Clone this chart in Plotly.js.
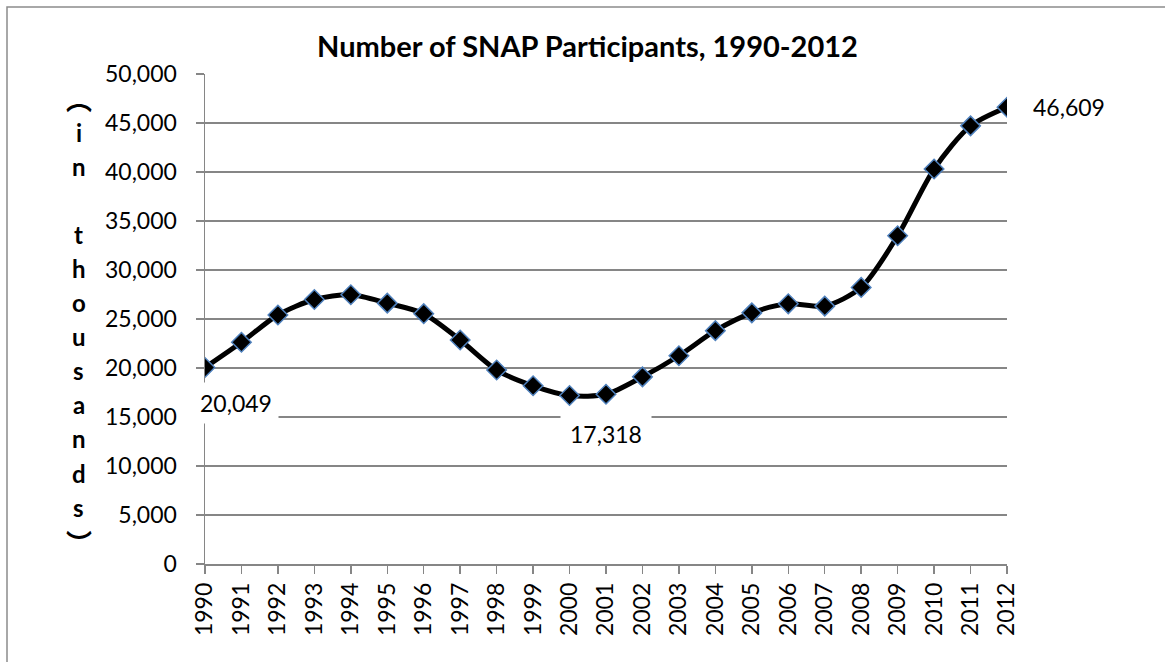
<!DOCTYPE html>
<html>
<head>
<meta charset="utf-8">
<script src="https://cdn.plot.ly/plotly-3.0.1.min.js"></script>
<style>html,body{margin:0;padding:0;background:#fff;}#chart{width:1165px;height:662px;}</style>
</head>
<body>
<div id="chart"></div>
<script>
// ---- data ----
var years = [1990,1991,1992,1993,1994,1995,1996,1997,1998,1999,2000,2001,2002,2003,2004,2005,2006,2007,2008,2009,2010,2011,2012];
var participants = [20049,22625,25407,26987,27474,26619,25543,22858,19791,18183,17194,17318,19096,21250,23811,25628,26549,26316,28223,33490,40302,44709,46609];
var labelledYears = [1990, 2001, 2012];
var chartTitle = "Number of SNAP Participants, 1990-2012";
var yTitleLetters = "in thousands";
var yTitleOpen = "\uFE35", yTitleClose = "\uFE36"; // vertical-form parentheses
var yTickVals = [0,5000,10000,15000,20000,25000,30000,35000,40000,45000,50000];

// ---- layout geometry (pixels) ----
var W = 1165, H = 662;
var L = 205, R = 158, T = 74, B = 98;
var PW = W - L - R, PH = H - T - B;
function pxX(px){ return (px - L) / PW; }
function pxY(py){ return (H - B - py) / PH; }

var FONT = "Lato, 'Open Sans', sans-serif";
var GRID = "#868686";

var annotations = [];
// data labels
var labelStyle = {
  1990: {xshift: 31, yshift: -35, pad: 6},
  2001: {xshift: 0, yshift: -40, pad: 9},
  2012: {xshift: 62, yshift: 0, pad: 4}
};
labelledYears.forEach(function(yr){
  var i = years.indexOf(yr);
  var s = labelStyle[yr];
  annotations.push({
    xref: 'x', yref: 'y', x: years[i], y: participants[i],
    text: participants[i].toLocaleString('en-US'),
    showarrow: false, xshift: s.xshift, yshift: s.yshift,
    bgcolor: '#ffffff', borderpad: s.pad,
    font: {family: FONT, size: 23, color: '#000'}
  });
});

// stacked vertical y-axis title
var inner = yTitleLetters.split('');
var pitch = 34.1, firstY = 132, titleX = 79;
var tFont = {family: FONT, size: 24, color: '#000', weight: 'bold'};
var pFont = {family: "'Noto Sans CJK SC', sans-serif", size: 26, color: '#000', weight: 'bold'};
annotations.push({xref:'paper', yref:'paper', x: pxX(titleX), y: pxY(98), text: yTitleOpen,
  showarrow:false, xanchor:'center', yanchor:'middle', font: pFont});
inner.forEach(function(c, k){
  if (c === ' ') return;
  annotations.push({xref:'paper', yref:'paper', x: pxX(titleX), y: pxY(firstY + k*pitch), text: c,
    showarrow:false, xanchor:'center', yanchor:'middle', font: tFont});
});
annotations.push({xref:'paper', yref:'paper', x: pxX(titleX), y: pxY(firstY + (inner.length-1)*pitch + 34), text: yTitleClose,
  showarrow:false, xanchor:'center', yanchor:'middle', font: pFont});

var trace = {
  x: years, y: participants, type: 'scatter', mode: 'lines+markers',
  line: {color: '#000000', width: 5, shape: 'spline', smoothing: 0.8},
  marker: {symbol: 'diamond', size: 15, color: '#000000', line: {color: '#4f81bd', width: 1.5}},
  hoverinfo: 'x+y'
};

var layout = {
  width: W, height: H,
  margin: {l: L, r: R, t: T, b: B, pad: 0},
  paper_bgcolor: '#fff', plot_bgcolor: '#fff',
  showlegend: false,
  title: {text: '<b>' + chartTitle + '</b>', x: 587.5 / W, xanchor: 'center', xref: 'container',
          y: 1 - 47 / H, yanchor: 'middle', yref: 'container',
          font: {family: FONT, size: 29, color: '#000'}},
  xaxis: {
    range: [years[0], years[years.length-1]], tickmode: 'array', tickvals: years, ticktext: years.map(String),
    tickangle: -90, ticks: 'outside', ticklen: 8, tickcolor: GRID, tickwidth: 1.5,
    showline: true, linecolor: GRID, linewidth: 1.5, showgrid: false, zeroline: false,
    tickfont: {family: FONT, size: 23, color: '#000'}, fixedrange: true
  },
  yaxis: {
    range: [0, 50000], tickmode: 'array', tickvals: yTickVals, tickformat: ',',
    ticks: 'outside', ticklen: 8, tickcolor: GRID, tickwidth: 1.5,
    showline: true, linecolor: GRID, linewidth: 1.5, showgrid: true, gridcolor: GRID, gridwidth: 1.5,
    zeroline: false, ticklabelstandoff: 14,
    tickfont: {family: FONT, size: 23, color: '#000'}, fixedrange: true
  },
  annotations: annotations,
  shapes: [{type: 'rect', xref: 'paper', yref: 'paper', x0: pxX(7), x1: pxX(W + 20), y0: pxY(H + 20), y1: pxY(7),
            line: {color: '#8c8c8c', width: 1.5}, fillcolor: 'rgba(0,0,0,0)', layer: 'below'}]
};

Plotly.newPlot('chart', [trace], layout, {displayModeBar: false, staticPlot: true});
</script>
</body>
</html>
